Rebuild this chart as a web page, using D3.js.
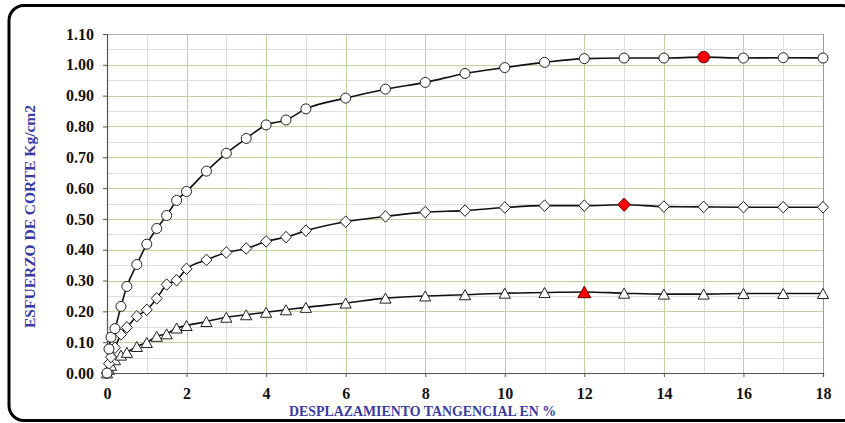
<!DOCTYPE html>
<html>
<head>
<meta charset="utf-8">
<script src="https://cdn.jsdelivr.net/npm/d3@7"></script>
<style>
  html, body { margin: 0; padding: 0; background: #fff; }
  svg { display: block; }
</style>
</head>
<body>
<svg id="chart" width="845" height="423"></svg>
<script>
// Desplazamiento tangencial (%) de cada lectura
const desplazamiento = [0, 0.05, 0.1, 0.2, 0.35, 0.5, 0.75, 1, 1.25, 1.5, 1.75, 2, 2.5, 3, 3.5, 4, 4.5, 5,
  6, 7, 8, 9, 10, 11, 12, 13, 14, 15, 16, 17, 18];

// Esfuerzo de corte (kg/cm2) para cada carga normal
const esfuerzoAlto = [0, 0.078, 0.116, 0.144, 0.216, 0.281, 0.352, 0.418, 0.469, 0.511, 0.560, 0.589, 0.655,
  0.713, 0.761, 0.805, 0.821, 0.857, 0.892, 0.921, 0.943, 0.972, 0.991, 1.008, 1.020, 1.022, 1.022, 1.025,
  1.022, 1.023, 1.022];
const esfuerzoMedio = [0, 0.030, 0.052, 0.082, 0.125, 0.148, 0.184, 0.205, 0.242, 0.287, 0.301, 0.338, 0.367,
  0.391, 0.404, 0.427, 0.441, 0.462, 0.491, 0.508, 0.522, 0.527, 0.537, 0.543, 0.543, 0.546, 0.540, 0.539,
  0.538, 0.538, 0.538];
const esfuerzoBajo = [0, 0.012, 0.025, 0.043, 0.058, 0.067, 0.086, 0.099, 0.119, 0.127, 0.146, 0.154, 0.167,
  0.181, 0.189, 0.197, 0.205, 0.213, 0.227, 0.243, 0.250, 0.254, 0.259, 0.261, 0.263, 0.259, 0.256, 0.256,
  0.258, 0.258, 0.258];

// Desplazamiento en que se alcanza el esfuerzo máximo de cada curva
const picos = [15, 13, 12];
const marcadores = ["circle", "diamond", "triangle"];

// Marcas de los ejes
const xTicks = [0, 2, 4, 6, 8, 10, 12, 14, 16, 18];
const yTicks = [0, 0.1, 0.2, 0.3, 0.4, 0.5, 0.6, 0.7, 0.8, 0.9, 1.0, 1.1];
const xGrid = d3.range(0, 19, 1);
const yGrid = d3.range(0, 23, 1).map(i => i * 0.05);

const series = [
  { valores: esfuerzoBajo, marcador: marcadores[2], pico: picos[2] },
  { valores: esfuerzoMedio, marcador: marcadores[1], pico: picos[1] },
  { valores: esfuerzoAlto, marcador: marcadores[0], pico: picos[0] }
];

const svg = d3.select("#chart");
const plotLeft = 107, plotRight = 823, plotTop = 34, plotBottom = 373;

const x = d3.scaleLinear().domain([0, 18]).range([plotLeft, plotRight]);
const y = d3.scaleLinear().domain([0, 1.1]).range([plotBottom, plotTop]);

// Marco redondeado exterior
svg.append("rect")
  .attr("x", 9).attr("y", 5.5).attr("width", 848).attr("height", 415)
  .attr("rx", 15).attr("ry", 15)
  .attr("fill", "#fff").attr("stroke", "#000").attr("stroke-width", 3);

// Cuadrícula
const grid = svg.append("g");
grid.selectAll("line.v").data(xGrid).join("line")
  .attr("x1", d => Math.round(x(d)) + 0.5).attr("x2", d => Math.round(x(d)) + 0.5)
  .attr("y1", plotTop).attr("y2", plotBottom)
  .attr("stroke", d => d % 2 === 0 ? "#bcd3a0" : "#dddddd")
  .attr("stroke-width", 1);
grid.selectAll("line.h").data(yGrid).join("line")
  .attr("x1", plotLeft).attr("x2", plotRight)
  .attr("y1", d => Math.round(y(d)) + 0.5).attr("y2", d => Math.round(y(d)) + 0.5)
  .attr("stroke", (d, i) => i % 2 === 0 ? "#bcd3a0" : "#dddddd")
  .attr("stroke-width", 1);

// Borde del área de trazado
svg.append("line").attr("x1", plotLeft).attr("x2", plotRight).attr("y1", plotTop + 0.5).attr("y2", plotTop + 0.5)
  .attr("stroke", "#b0b0b0");
svg.append("line").attr("x1", plotRight + 0.5).attr("x2", plotRight + 0.5).attr("y1", plotTop).attr("y2", plotBottom)
  .attr("stroke", "#9a9a9a");

// Ejes
const xAxis = d3.axisBottom(x).tickValues(xTicks).tickSize(4).tickFormat(d3.format("d"));
const yAxis = d3.axisLeft(y).tickValues(yTicks).tickSize(4).tickFormat(d3.format(".2f"));

const gx = svg.append("g").attr("transform", `translate(0,${plotBottom})`).call(xAxis);
const gy = svg.append("g").attr("transform", `translate(${plotLeft},0)`).call(yAxis);

[gx, gy].forEach(g => {
  g.select(".domain").attr("stroke", "#555").attr("stroke-width", 1.2);
  g.selectAll(".tick line").attr("stroke", "#555");
  g.selectAll(".tick text")
    .attr("font-family", "'Liberation Serif', 'Times New Roman', serif")
    .attr("font-weight", "bold")
    .attr("font-size", 16)
    .attr("fill", "#111");
});
gx.selectAll(".tick text").attr("dy", "1.2em");
gy.selectAll(".tick text").attr("x", -13);

// Curvas
const linea = d3.line()
  .x(d => x(d[0]))
  .y(d => y(d[1]))
  .curve(d3.curveMonotoneX);

const capaCurvas = svg.append("g");
series.forEach(s => {
  const puntos = desplazamiento.map((d, i) => [d, s.valores[i]]);
  capaCurvas.append("path")
    .datum(puntos)
    .attr("d", linea)
    .attr("fill", "none")
    .attr("stroke", "#111")
    .attr("stroke-width", 1.6);
});

// Formas de los marcadores, centradas en su caja
function forma(tipo, grande) {
  const k = grande ? 1.15 : 1;
  if (tipo === "circle") {
    const r = 5 * k;
    return `M${r},0A${r},${r} 0 1,1 ${-r},0A${r},${r} 0 1,1 ${r},0Z`;
  }
  if (tipo === "diamond") {
    const w = 5.5 * k, h = 5.8 * k;
    return `M0,${-h}L${w},0L0,${h}L${-w},0Z`;
  }
  const w = 5.6 * k, h = 5 * k;
  return `M0,${-h}L${w},${h}L${-w},${h}Z`;
}

series.forEach(s => {
  const puntos = desplazamiento.map((d, i) => ({ d, v: s.valores[i] }));
  svg.append("g").selectAll("path").data(puntos).join("path")
    .attr("transform", p => `translate(${x(p.d)},${y(p.v)})`)
    .attr("d", p => forma(s.marcador, p.d === s.pico))
    .attr("fill", p => p.d === s.pico ? "#ff0000" : "#fff")
    .attr("stroke", p => p.d === s.pico ? "#600" : "#222")
    .attr("stroke-width", 1);
});

// Títulos de los ejes
svg.append("text")
  .attr("x", 422.5).attr("y", 416)
  .attr("text-anchor", "middle")
  .attr("font-family", "'Liberation Serif', 'Times New Roman', serif")
  .attr("font-weight", "bold")
  .attr("font-size", 14.5)
  .attr("fill", "#3a3aa6")
  .attr("textLength", 267)
  .attr("lengthAdjust", "spacingAndGlyphs")
  .text("DESPLAZAMIENTO TANGENCIAL EN %");

svg.append("text")
  .attr("transform", "translate(35,216.5) rotate(-90)")
  .attr("text-anchor", "middle")
  .attr("font-family", "'Liberation Serif', 'Times New Roman', serif")
  .attr("font-weight", "bold")
  .attr("font-size", 15.5)
  .attr("fill", "#3a3aa6")
  .attr("textLength", 223)
  .attr("lengthAdjust", "spacingAndGlyphs")
  .text("ESFUERZO DE CORTE Kg/cm2");
</script>
</body>
</html>
